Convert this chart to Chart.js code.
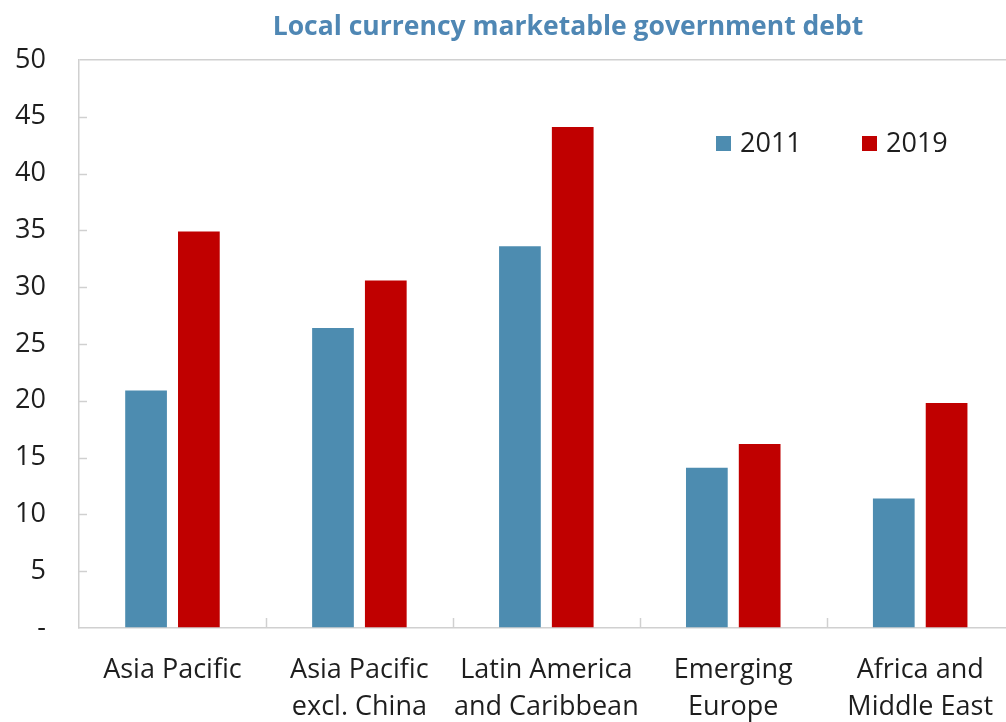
<!DOCTYPE html>
<html>
<head>
<meta charset="utf-8">
<script src="https://cdn.jsdelivr.net/npm/chart.js@4/dist/chart.umd.min.js"></script>
<style>
  html, body { margin: 0; padding: 0; background: #fff; overflow: hidden; }
  #wrap { width: 1016px; height: 722px; }
</style>
</head>
<body>
<div id="wrap"><canvas id="debtChart" width="1016" height="722"></canvas></div>
<script>
const categories = [
  ["Asia Pacific"],
  ["Asia Pacific", "excl. China"],
  ["Latin America", "and Caribbean"],
  ["Emerging", "Europe"],
  ["Africa and", "Middle East"]
];
const values2011 = [20.9, 26.4, 33.6, 14.1, 11.4];
const values2019 = [34.9, 30.6, 44.1, 16.2, 19.8];
const yTicks = [0, 5, 10, 15, 20, 25, 30, 35, 40, 45, 50];

const FONT = "'Open Sans', 'DejaVu Sans', sans-serif";

// title, inward tick marks and the legend sit inside/over the plot, so draw them here
const extras = {
  id: "extras",
  afterDraw(chart) {
    const ctx = chart.ctx;
    const area = chart.chartArea;
    const x = chart.scales.x;
    const y = chart.scales.y;
    ctx.save();

    ctx.strokeStyle = "#d0d0d0";
    ctx.lineWidth = 1.5;
    yTicks.slice(1, -1).forEach(v => {
      const py = Math.round(y.getPixelForValue(v)) + 0.5;
      ctx.beginPath();
      ctx.moveTo(area.left, py);
      ctx.lineTo(area.left + 8, py);
      ctx.stroke();
    });
    for (let i = 1; i < categories.length; i++) {
      const px = Math.round((x.getPixelForTick(i - 1) + x.getPixelForTick(i)) / 2) + 0.5;
      ctx.beginPath();
      ctx.moveTo(px, area.bottom);
      ctx.lineTo(px, area.bottom - 10);
      ctx.stroke();
    }

    ctx.fillStyle = "#4f87b4";
    ctx.font = "bold 26.5px " + FONT;
    ctx.textAlign = "center";
    ctx.textBaseline = "middle";
    ctx.fillText("Local currency marketable government debt", 568, 27);

    ctx.font = "27px " + FONT;
    ctx.textAlign = "left";
    const legendX = [716, 862];
    chart.data.datasets.forEach((ds, i) => {
      ctx.fillStyle = ds.backgroundColor;
      ctx.fillRect(legendX[i], 136, 15, 15);
      ctx.fillStyle = "#1e1e1e";
      ctx.fillText(ds.label, legendX[i] + 24, 144);
    });
    ctx.restore();
  }
};

new Chart(document.getElementById("debtChart").getContext("2d"), {
  type: "bar",
  data: {
    labels: categories,
    datasets: [
      { label: "2011", data: values2011, backgroundColor: "#4d8cb0" },
      { label: "2019", data: values2019, backgroundColor: "#c00000" }
    ]
  },
  options: {
    responsive: false,
    animation: false,
    layout: { padding: { top: 60, left: 0, right: 0, bottom: 0 } },
    datasets: {
      bar: { categoryPercentage: 0.565, barPercentage: 0.79 }
    },
    plugins: {
      legend: { display: false },
      title: { display: false },
      tooltip: { enabled: false }
    },
    scales: {
      x: {
        grid: { display: false, drawTicks: false },
        border: { display: true, color: "#d0d0d0", width: 1.5 },
        ticks: {
          color: "#1e1e1e",
          padding: 23,
          maxRotation: 0,
          autoSkip: false,
          font: { family: FONT, size: 27, lineHeight: 1.4 }
        },
        afterFit(scale) { scale.height = 94; }
      },
      y: {
        min: 0,
        max: 50,
        afterBuildTicks(scale) { scale.ticks = yTicks.map(v => ({ value: v })); },
        grid: {
          drawTicks: false,
          lineWidth: 1.5,
          color: c => (c.tick && c.tick.value === 50 ? "#d0d0d0" : "rgba(0,0,0,0)")
        },
        border: { display: true, color: "#d0d0d0", width: 1.5 },
        ticks: {
          color: "#1e1e1e",
          padding: 33,
          font: { family: FONT, size: 27 },
          callback: v => (v === 0 ? "-" : v)
        },
        afterFit(scale) { scale.width = 79; }
      }
    }
  },
  plugins: [extras]
});
</script>
</body>
</html>
